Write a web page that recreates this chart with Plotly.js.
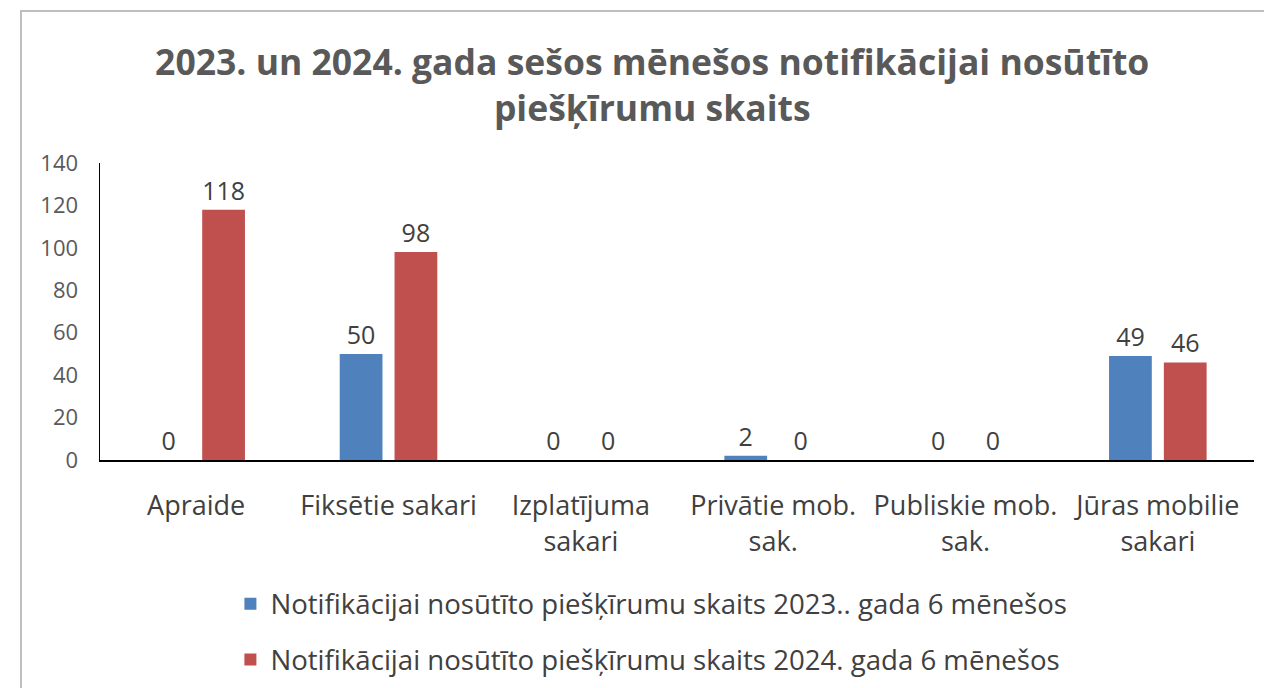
<!DOCTYPE html>
<html>
<head>
<meta charset="utf-8">
<script src="https://cdn.plot.ly/plotly-3.0.1.min.js"></script>
<style>
  html, body { margin: 0; padding: 0; background: #fff; overflow: hidden; }
  #chart { position: absolute; left: 0; top: 0; width: 1264px; height: 688px; }
  #frame { position: absolute; left: 20px; top: 10px; width: 1270px; height: 700px;
           border: 2px solid #bfbfbf; pointer-events: none; }
</style>
</head>
<body>
<div id="chart"></div>
<div id="frame"></div>
<script>
// categories and values
var categories = ['Apraide', 'Fiksētie sakari', 'Izplatījuma<br>sakari', 'Privātie mob.<br>sak.', 'Publiskie mob.<br>sak.', 'Jūras mobilie<br>sakari'];
var values2023 = [0, 50, 0, 2, 0, 49];
var values2024 = [118, 98, 0, 0, 0, 46];
var name2023 = 'Notifikācijai nosūtīto piešķīrumu skaits 2023.. gada 6 mēnešos';
var name2024 = 'Notifikācijai nosūtīto piešķīrumu skaits 2024. gada 6 mēnešos';
var yTicks = [0, 20, 40, 60, 80, 100, 120, 140];

var font = 'Open Sans, Noto Sans, sans-serif';

var trace1 = {
  x: categories,
  y: values2023,
  name: name2023,
  type: 'bar',
  marker: {color: '#4f81bd'},
  text: values2023.map(String),
  textposition: 'outside',
  textfont: {size: 25, color: '#404040', family: font},
  cliponaxis: false,
  hoverinfo: 'none'
};

var trace2 = {
  x: categories,
  y: values2024,
  name: name2024,
  type: 'bar',
  marker: {color: '#c0504d'},
  text: values2024.map(String),
  textposition: 'outside',
  textfont: {size: 25, color: '#404040', family: font},
  cliponaxis: false,
  hoverinfo: 'none',
  legend: 'legend2'
};

var legendStyle = {
  font: {size: 27.6, color: '#404040', family: font},
  bgcolor: 'rgba(0,0,0,0)',
  xanchor: 'left',
  yanchor: 'middle',
  x: 0.113
};

var layout = {
  width: 1264,
  height: 688,
  // legends sit low in the margin; keep the plot area fixed
  margin: {l: 100, r: 10, t: 163, b: 228, autoexpand: false},
  paper_bgcolor: '#fff',
  plot_bgcolor: '#fff',
  font: {family: font, color: '#595959'},
  title: {
    text: '<b>2023. un 2024. gada sešos mēnešos notifikācijai nosūtīto<br>piešķīrumu skaits</b>',
    font: {size: 35.5, color: '#595959', family: font},
    xref: 'container', x: 0.516,
    yref: 'container', y: 0.891, yanchor: 'middle'
  },
  barmode: 'group',
  bargap: 0.43,
  bargroupgap: 0.22,
  xaxis: {
    tickfont: {size: 27, color: '#404040', family: font},
    showline: true, linecolor: '#000', linewidth: 2,
    ticks: '', showgrid: false, zeroline: false,
    ticklabelstandoff: 21
  },
  yaxis: {
    range: [0, 140],
    tickvals: yTicks,
    tickfont: {size: 22, color: '#595959', family: font},
    showline: true, linecolor: '#000', linewidth: 1.5,
    ticks: '', showgrid: false, zeroline: false,
    ticklabelstandoff: 16
  },
  legend: Object.assign({y: -0.484}, legendStyle),
  legend2: Object.assign({y: -0.672}, legendStyle),
  showlegend: true
};

Plotly.newPlot('chart', [trace1, trace2], layout, {displayModeBar: false, staticPlot: true});
</script>
</body>
</html>
